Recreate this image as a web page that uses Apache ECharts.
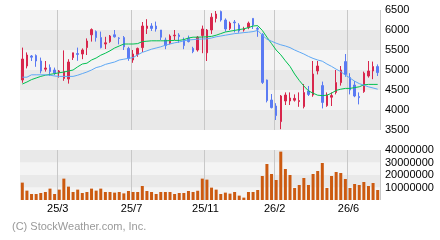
<!DOCTYPE html>
<html><head><meta charset="utf-8">
<script src="https://cdn.jsdelivr.net/npm/echarts@6/dist/echarts.min.js"></script>
<style>html,body{margin:0;padding:0;background:#fff}#c{width:440px;height:240px}</style>
</head><body><div id="c"></div>
<script>
// weekly candles (index 0..77)
const open  = [4750,5100,5350,5360,5225,5020,5060,5000,4935,4790,4775,5310,5410,5400,5560,5880,5960,5810,5650,5710,5880,5800,5810,5540,5250,5390,5560,6040,6100,6100,6000,5750,5670,5855,5875,5750,5790,5540,5500,5860,5430,6000,6290,6460,6250,6040,6200,6125,6000,6060,6290,6040,5890,4750,4250,4100,3710,4225,4225,4245,4210,4085,4475,4375,4975,4610,4110,4320,4440,4685,5210,4810,4625,4335,4460,4850,4975,5085];
const close = [5275,5375,5320,5225,4975,5050,4960,4925,4975,4960,5200,5430,5390,5500,5725,6010,5810,5560,5680,5850,5830,5790,5580,5290,5400,5540,6100,6100,6040,6025,5820,5610,5850,5870,5835,5610,5710,5460,5820,6025,6000,6320,6400,6250,6025,6170,6180,5975,6025,6170,6125,6020,4690,4235,4060,3860,4350,4375,4300,4290,4235,4435,4390,4900,5100,4190,4375,4360,4685,5000,4890,4500,4350,4310,4920,4975,5085,4935];
const low   = [4680,5040,5225,5080,4915,4960,4850,4870,4810,4730,4660,5250,5230,5270,5375,5710,5710,5540,5525,5680,5810,5640,5500,5230,5180,5330,5450,5900,5975,5960,5750,5520,5640,5750,5680,5520,5690,5420,5460,5420,5225,5900,6190,6210,5960,6000,5940,5930,5960,6020,6025,5830,4650,4190,4040,3750,3520,4125,4125,4210,4080,4040,4350,4330,4890,4040,4080,4100,4390,4610,4830,4390,4320,4140,4430,4810,4770,4850];
const high  = [5560,5440,5375,5390,5310,5225,5140,5060,5000,5490,5270,5430,5560,5540,5790,6040,5990,5960,5830,5875,6000,5820,5850,5580,5500,5560,6200,6270,6170,6210,6000,5810,5890,6000,5920,5810,5860,5580,5850,6110,6025,6420,6475,6485,6290,6210,6250,6170,6080,6210,6290,6080,5920,4760,4400,4170,4375,4440,4440,4390,4440,4650,4600,5225,5225,4710,4440,4440,5000,5100,5400,4920,4725,4440,4960,5225,5210,5140];
const volume = [13900000,7500000,4800000,4800000,5600000,6400000,9100000,4800000,8300000,17100000,10700000,6400000,8300000,5600000,6400000,9100000,7500000,9100000,6400000,6400000,5900000,6400000,5300000,7200000,6400000,6400000,11200000,7200000,6400000,4800000,6400000,6400000,6400000,4800000,5600000,5600000,7200000,6400000,7400000,17100000,16300000,9900000,8300000,4800000,5900000,5100000,6400000,3500000,1900000,6400000,6400000,8000000,19200000,28800000,20800000,16000000,38700000,24800000,20000000,9600000,12000000,17600000,12000000,20800000,23200000,29600000,9600000,19200000,22400000,21600000,16800000,9600000,12800000,12000000,14400000,11200000,13600000,8000000];
const maShort = [4650,4700,4760,4800,4840,4870,4890,4910,4930,4950,4975,5000,5080,5150,5170,5250,5300,5370,5420,5480,5550,5600,5650,5650,5650,5660,5710,5720,5730,5730,5730,5730,5735,5740,5740,5760,5800,5820,5820,5825,5830,5840,5870,5910,5950,5970,5990,6010,6030,6060,6100,6110,5990,5820,5660,5500,5380,5230,5090,4900,4740,4600,4480,4420,4370,4360,4370,4420,4490,4520,4540,4540,4560,4580,4630,4640,4640,4640];
const maLong  = [4820,4820,4880,4880,4880,4880,4870,4850,4840,4840,4840,4840,4870,4910,4950,5000,5060,5090,5140,5170,5200,5250,5270,5290,5310,5380,5440,5480,5520,5550,5580,5620,5650,5680,5700,5730,5750,5760,5770,5775,5780,5800,5830,5850,5870,5890,5910,5920,5935,5945,5960,5990,5870,5770,5720,5670,5630,5600,5560,5500,5450,5400,5340,5290,5250,5220,5150,5090,5020,4960,4870,4800,4720,4660,4620,4580,4550,4520];
const tickIndex  = [8, 24, 40, 55, 71];
const tickLabels = ['25/3', '25/7', '25/11', '26/2', '26/6'];
const categories = open.map((_, i) => String(i));

const candles = open.map((o, i) => [o, close[i], low[i], high[i]]);
const labelOf = {};
tickIndex.forEach((k, j) => { labelOf[k] = tickLabels[j]; });

const FONT = '"Liberation Sans", Arial, sans-serif';
const UP = '#d8264c', DOWN = '#5b7bf3';
const chart = echarts.init(document.getElementById('c'), null, {renderer: 'canvas'});
const xBase = (gi, showLabel) => ({
  type: 'category', gridIndex: gi, data: categories, boundaryGap: true,
  axisLine: {show: false}, axisTick: {show: false},
  axisLabel: {show: showLabel, interval: (i) => labelOf[i] !== undefined,
    formatter: (v, i) => labelOf[i] || '', color: '#000', fontSize: 11, fontFamily: FONT,
    margin: 3, padding: [0, 3, 0, 0]},
  splitLine: {show: true, interval: (i) => labelOf[i] !== undefined, lineStyle: {color: '#c8c8c8', width: 1}}
});
chart.setOption({
  animation: false,
  grid: [
    {left: 20, top: 10, width: 360, height: 120},
    {left: 20, top: 150, width: 360, height: 50}
  ],
  xAxis: [xBase(0, false), xBase(1, true)],
  yAxis: [
    {type: 'value', gridIndex: 0, position: 'right', min: 3500, max: 6500, interval: 500,
     axisLine: {show: false}, axisTick: {show: false}, splitLine: {show: false},
     axisLabel: {color: '#000', fontSize: 11, fontFamily: FONT, margin: 5, padding: [0, 0, 2, 0],
       formatter: (v) => String(v)},
     splitArea: {show: true, areaStyle: {color: ['#e9e9e9', '#f4f4f4']}}},
    {type: 'value', gridIndex: 1, position: 'right', min: 0, max: 40000000, interval: 10000000,
     axisLine: {show: false}, axisTick: {show: false}, splitLine: {show: false},
     axisLabel: {color: '#000', fontSize: 11, fontFamily: FONT, margin: 5, padding: [0, 0, 5, 0],
       formatter: (v) => v === 0 ? '' : String(v)},
     splitArea: {show: true, areaStyle: {color: ['#f4f4f4', '#e9e9e9']}}}
  ],
  series: [
    {type: 'candlestick', xAxisIndex: 0, yAxisIndex: 0, data: candles, barWidth: 2,
     itemStyle: {color: UP, color0: DOWN, borderColor: UP, borderColor0: DOWN, borderWidth: 1}},
    {type: 'line', xAxisIndex: 0, yAxisIndex: 0, data: maShort, showSymbol: false, symbol: 'none',
     lineStyle: {color: '#00c050', width: 1}, z: 3},
    {type: 'line', xAxisIndex: 0, yAxisIndex: 0, data: maLong, showSymbol: false, symbol: 'none',
     lineStyle: {color: '#5ea8f5', width: 1}, z: 3},
    {type: 'bar', xAxisIndex: 1, yAxisIndex: 1, data: volume, barWidth: 3,
     itemStyle: {color: '#cc5a10'}}
  ],
  graphic: [
    {type: 'text', left: 12, top: 221, style: {text: '(C) StockWeather.com, Inc.', fill: '#999999', font: '11px ' + FONT}}
  ]
});
</script></body></html>
